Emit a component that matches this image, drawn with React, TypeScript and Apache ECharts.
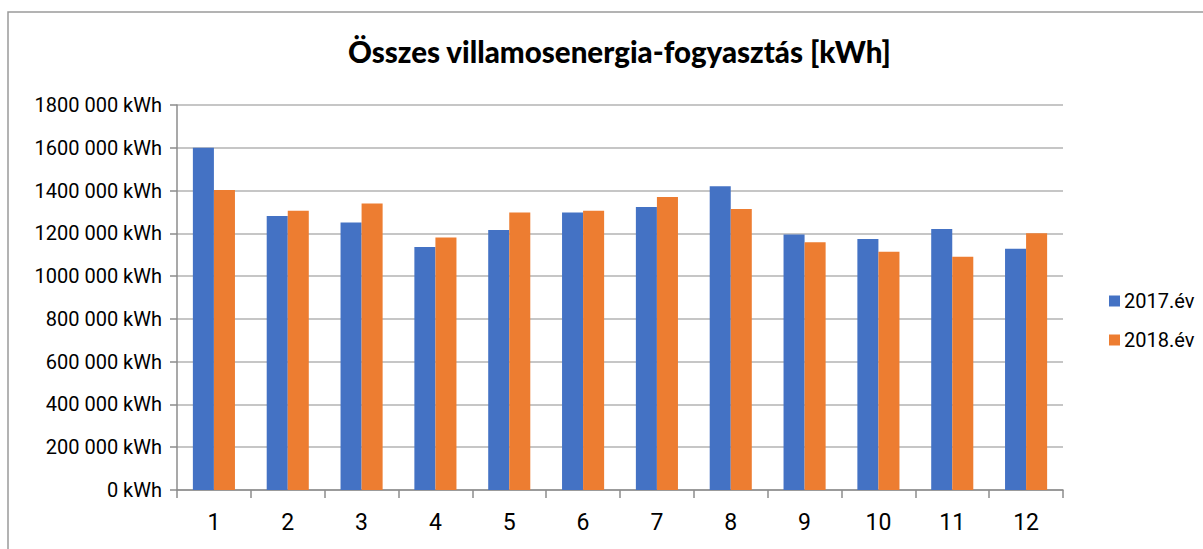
import React, { useEffect, useRef } from "react";
import * as echarts from "echarts";

const months = ["1", "2", "3", "4", "5", "6", "7", "8", "9", "10", "11", "12"];
const values2017 = [1600000, 1281000, 1251000, 1136000, 1216000, 1297000, 1323000, 1420000, 1195000, 1173000, 1220000, 1128000];
const values2018 = [1403000, 1306000, 1339000, 1180000, 1297000, 1306000, 1370000, 1314000, 1158000, 1114000, 1091000, 1200000];
const seriesNames = ["2017.év", "2018.év"];
const titleText = "Összes villamosenergia-fogyasztás [kWh]";

export default function App() {
  const ref = useRef<HTMLDivElement>(null);
  useEffect(() => {
    if (!ref.current) return;
    const chart = echarts.init(ref.current, null, { renderer: "svg" });
    chart.setOption({
      animation: false,
      backgroundColor: "#ffffff",
      title: {
        text: titleText,
        left: 343,
        top: 31,
        textStyle: { fontFamily: "Lato", fontWeight: 900, fontSize: 29.5, color: "#000" },
      },
      graphic: [
        {
          type: "rect",
          shape: { x: 8, y: 12, width: 1300, height: 700 },
          style: { fill: "none", stroke: "#9a9a9a", lineWidth: 1.5 },
          silent: true,
        },
      ],
      legend: {
        orient: "vertical",
        left: 1104,
        top: 286,
        itemWidth: 11,
        itemHeight: 11,
        itemGap: 19,
        icon: "rect",
        textStyle: { fontFamily: "Roboto", fontSize: 20, color: "#000", padding: [0, 0, 0, -1] },
        data: seriesNames,
      },
      grid: { left: 177, right: 140, top: 105, bottom: 59, containLabel: false },
      xAxis: {
        type: "category",
        data: months,
        axisLine: { lineStyle: { color: "#8c8c8c", width: 1.5 } },
        axisTick: { show: true, length: 8, lineStyle: { color: "#8c8c8c", width: 1.5 } },
        axisLabel: { fontFamily: "Roboto", fontSize: 23, color: "#000", margin: 21 },
      },
      yAxis: {
        type: "value",
        min: 0,
        max: 1800000,
        interval: 200000,
        axisLine: { show: true, lineStyle: { color: "#8c8c8c", width: 1.5 } },
        axisTick: { show: true, length: 7, lineStyle: { color: "#8c8c8c", width: 1.5 } },
        splitLine: { lineStyle: { color: "#b3b3b3", width: 1.5 } },
        axisLabel: {
          fontFamily: "Roboto",
          fontSize: 20,
          color: "#000",
          margin: 15,
          formatter: (v: number) => (v === 0 ? "0 kWh" : `${v / 1000} 000 kWh`),
        },
      },
      series: [
        {
          name: seriesNames[0],
          type: "bar",
          data: values2017,
          itemStyle: { color: "#4472C4" },
          barGap: "0%",
          barCategoryGap: "43%",
        },
        {
          name: seriesNames[1],
          type: "bar",
          data: values2018,
          itemStyle: { color: "#ED7D31" },
          barGap: "0%",
          barCategoryGap: "43%",
        },
      ],
    });
    return () => chart.dispose();
  }, []);
  return (
    <div
      ref={ref}
      style={{ position: "fixed", left: 0, top: 0, width: 1203, height: 549 }}
    />
  );
}
